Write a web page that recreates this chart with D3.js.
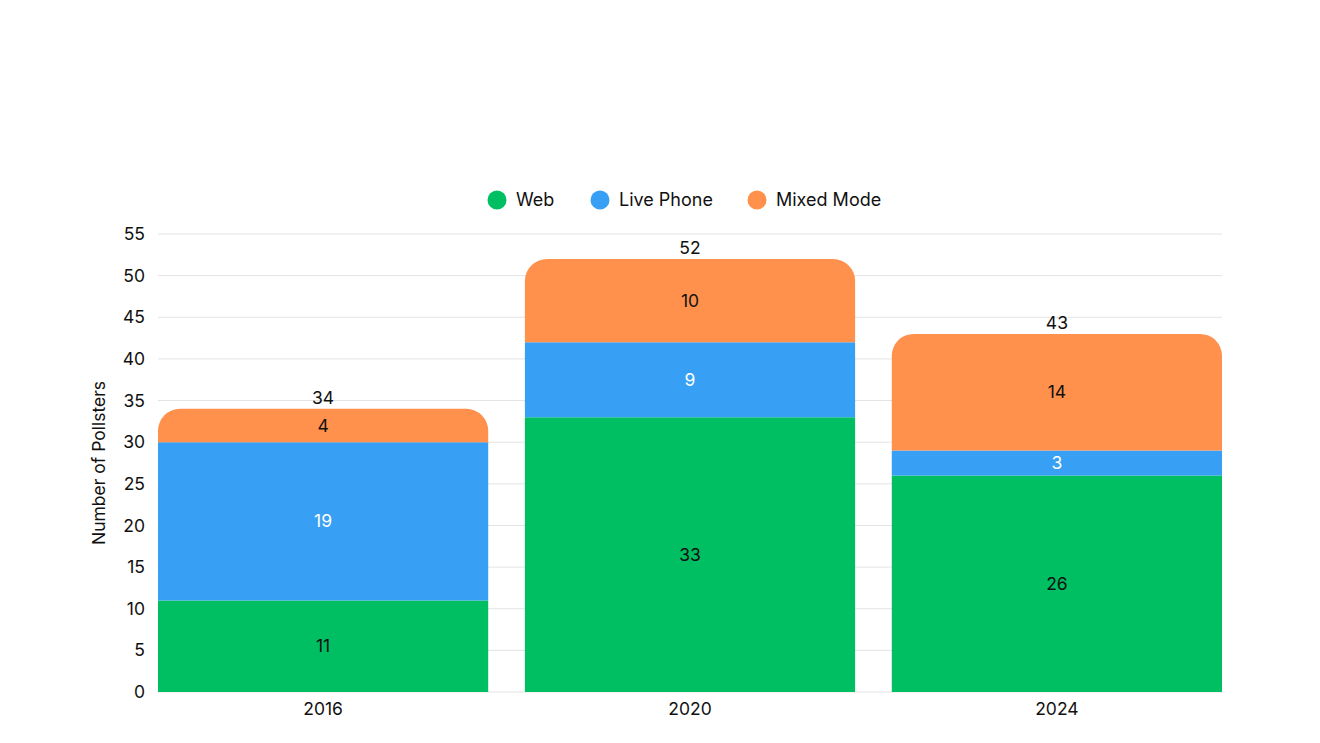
<!DOCTYPE html>
<html lang="en">
<head>
<meta charset="utf-8">
<title>Pollsters by mode</title>
<script src="https://d3js.org/d3.v7.min.js"></script>
<style>
  body { margin: 0; background: #fff; }
  text { font-family: Inter, "Noto Sans", sans-serif; fill: #111; }
</style>
</head>
<body>
<script>
// data
var years = ["2016", "2020", "2024"];
var modes = ["Web", "Live Phone", "Mixed Mode"];
var web = [11, 33, 26];
var livePhone = [19, 9, 3];
var mixedMode = [4, 10, 14];
var yTicks = [0, 5, 10, 15, 20, 25, 30, 35, 40, 45, 50, 55];
var colors = ["#00bf63", "#37a0f4", "#ff914d"];
var labelColors = ["#111", "#fff", "#111"];

var w = 1320, h = 743;
var plotLeft = 158, plotRight = 1222, plotTop = 234, plotBottom = 692;

var svg = d3.select("body").append("svg").attr("width", w).attr("height", h);

var x = d3.scaleBand().domain(years).range([plotLeft, plotRight]).paddingInner(0.1).paddingOuter(0);
var y = d3.scaleLinear().domain([0, 55]).range([plotBottom, plotTop]);

// gridlines
svg.append("g").selectAll("line").data(yTicks).enter().append("line")
  .attr("x1", plotLeft).attr("x2", plotRight)
  .attr("y1", function(d) { return y(d); }).attr("y2", function(d) { return y(d); })
  .attr("stroke", "#e3e3e3").attr("stroke-width", 1);

// y axis
var yAxis = svg.append("g").attr("transform", "translate(" + (plotLeft - 13) + ",0)")
  .call(d3.axisLeft(y).tickValues(yTicks).tickSize(0).tickPadding(0));
yAxis.select(".domain").remove();
yAxis.selectAll("text").style("font-size", "17.5px").attr("fill", "#111");

svg.append("text")
  .attr("transform", "translate(105," + ((plotTop + plotBottom) / 2) + ") rotate(-90)")
  .attr("text-anchor", "middle").style("font-size", "17.5px")
  .text("Number of Pollsters");

// x axis
var xAxis = svg.append("g").attr("transform", "translate(0," + plotBottom + ")")
  .call(d3.axisBottom(x).tickSize(0).tickPadding(11));
xAxis.select(".domain").remove();
xAxis.selectAll("text").style("font-size", "17.5px").attr("fill", "#111");

// stack
var rows = years.map(function(yr, i) {
  return { year: yr, "Web": web[i], "Live Phone": livePhone[i], "Mixed Mode": mixedMode[i] };
});
var series = d3.stack().keys(modes)(rows);
var r = 22;

function topRounded(x0, y0, bw, bh, rad) {
  rad = Math.min(rad, bh, bw / 2);
  return "M" + x0 + "," + (y0 + bh) +
    "V" + (y0 + rad) +
    "A" + rad + "," + rad + " 0 0 1 " + (x0 + rad) + "," + y0 +
    "H" + (x0 + bw - rad) +
    "A" + rad + "," + rad + " 0 0 1 " + (x0 + bw) + "," + (y0 + rad) +
    "V" + (y0 + bh) + "Z";
}

series.forEach(function(s, si) {
  var g = svg.append("g");
  g.selectAll("path").data(s).enter().append("path")
    .attr("fill", colors[si])
    .attr("d", function(d) {
      var x0 = x(d.data.year), bw = x.bandwidth();
      var y0 = y(d[1]), bh = y(d[0]) - y(d[1]);
      if (si === series.length - 1) return topRounded(x0, y0, bw, bh, r);
      return "M" + x0 + "," + y0 + "h" + bw + "v" + bh + "h" + (-bw) + "Z";
    });
  g.selectAll("text").data(s).enter().append("text")
    .attr("x", function(d) { return x(d.data.year) + x.bandwidth() / 2; })
    .attr("y", function(d) { return (y(d[0]) + y(d[1])) / 2; })
    .attr("dy", "0.35em").attr("text-anchor", "middle")
    .style("font-size", "17.5px").style("fill", labelColors[si])
    .text(function(d) { return d[1] - d[0]; });
});

// totals
svg.append("g").selectAll("text").data(rows).enter().append("text")
  .attr("x", function(d) { return x(d.year) + x.bandwidth() / 2; })
  .attr("y", function(d) { return y(d["Web"] + d["Live Phone"] + d["Mixed Mode"]) - 11; })
  .attr("dy", "0.35em").attr("text-anchor", "middle").style("font-size", "17.5px")
  .text(function(d) { return d["Web"] + d["Live Phone"] + d["Mixed Mode"]; });

// legend
var legendX = [497, 600, 757];
var lg = svg.append("g").selectAll("g").data(modes).enter().append("g")
  .attr("transform", function(d, i) { return "translate(" + legendX[i] + ",200)"; });
lg.append("circle").attr("r", 9.5).attr("fill", function(d, i) { return colors[i]; });
lg.append("text").attr("x", 19).attr("dy", "0.35em").style("font-size", "18px").text(function(d) { return d; });
</script>
</body>
</html>
